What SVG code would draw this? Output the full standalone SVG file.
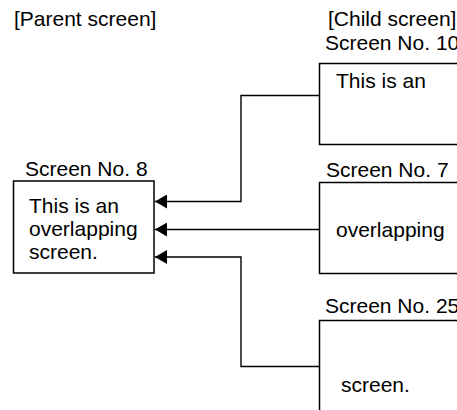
<svg xmlns="http://www.w3.org/2000/svg" width="457" height="410" viewBox="0 0 457 410">
  <defs>
    <style>
      text { font-family: "Liberation Sans", Arial, sans-serif; font-size: 21px; fill: #000; }
      .box { fill: #fff; stroke: #000; stroke-width: 1.5; }
      .conn { fill: none; stroke: #000; stroke-width: 1.4; }
    </style>
    <marker id="arrow" viewBox="0 0 12 14" refX="12" refY="7" markerWidth="12" markerHeight="14" markerUnits="userSpaceOnUse" orient="auto">
      <path d="M0,0 L12,7 L0,14 Z" fill="#000"/>
    </marker>
  </defs>
  <rect width="457" height="410" fill="#fff"/>
  <text x="14" y="26">[Parent screen]</text>
  <text x="328" y="26">[Child screen]</text>

  <g id="screen8">
    <text x="25" y="176">Screen No. 8</text>
    <rect class="box" x="13.5" y="181" width="140.5" height="92"/>
    <text x="29" y="213">This is an</text>
    <text x="29" y="236">overlapping</text>
    <text x="29" y="259">screen.</text>
  </g>

  <g id="screen10">
    <text x="325" y="50">Screen No. 10</text>
    <rect class="box" x="319.5" y="63.5" width="200" height="81"/>
    <text x="336" y="88">This is an</text>
  </g>

  <g id="screen7">
    <text x="326" y="177">Screen No. 7</text>
    <rect class="box" x="319.5" y="182.5" width="200" height="91"/>
    <text x="336" y="237">overlapping</text>
  </g>

  <g id="screen25">
    <text x="325" y="313">Screen No. 25</text>
    <rect class="box" x="319.5" y="320.5" width="200" height="140"/>
    <text x="341" y="392">screen.</text>
  </g>

  <g id="connectors">
    <path class="conn" d="M319.5,95.5 H241 V201.5 H155" marker-end="url(#arrow)"/>
    <path class="conn" d="M319.5,229.5 H155" marker-end="url(#arrow)"/>
    <path class="conn" d="M319.5,366.5 H241 V257 H155" marker-end="url(#arrow)"/>
  </g>
</svg>
